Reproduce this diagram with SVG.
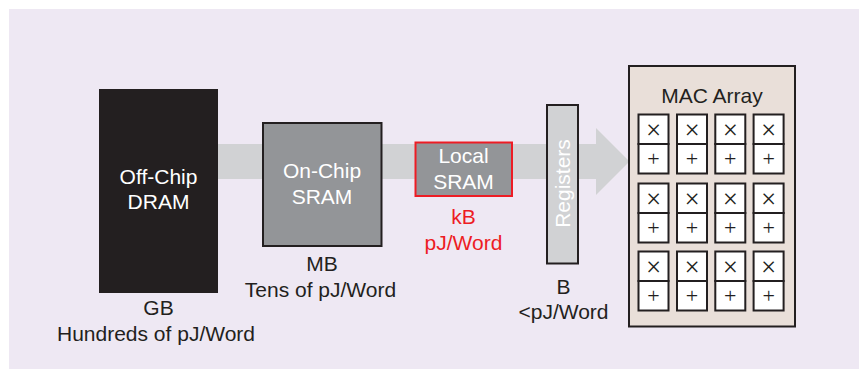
<svg xmlns="http://www.w3.org/2000/svg" width="859" height="370" viewBox="0 0 859 370">
  <style>
    text { font-family: "Liberation Sans", Arial, Helvetica, sans-serif; font-size: 21px; text-anchor: middle; }
    .dark { fill: #231F20; }
    .white { fill: #FFFFFF; }
    .red { fill: #ED1C24; }
    .mem { fill: #939598; stroke: #231F20; stroke-width: 2; }
    .cell { fill: #FFFFFF; stroke: #231F20; stroke-width: 2; }
    .op { font-family: "Liberation Serif", "Times New Roman", serif; font-size: 22px; fill: #231F20; }
    .mul { font-family: "Liberation Serif", "Times New Roman", serif; font-size: 27px; fill: #231F20; }
  </style>
  <defs>
    <!-- one multiply-accumulate unit: multiplier on top, adder below -->
    <g id="mac">
      <rect class="cell" x="0" y="0" width="30" height="29.5"/>
      <rect class="cell" x="0" y="29.5" width="30" height="29.5"/>
      <text class="mul" x="15" y="24">×</text>
      <text class="op" x="15" y="51.5">+</text>
    </g>
  </defs>

  <!-- panel background -->
  <rect x="9" y="9" width="850" height="360" fill="#EEE8F3"/>

  <!-- data-flow band from DRAM to the MAC array -->
  <g id="connectors">
    <rect x="218" y="144" width="379" height="35" fill="#D1D2D4"/>
    <polygon points="596,128 629.5,161.5 596,195" fill="#D1D2D4"/>
  </g>

  <g id="dram">
    <rect x="99" y="89" width="119" height="204" fill="#231F20"/>
    <text class="white" x="158.5" y="184">Off-Chip</text>
    <text class="white" x="158.5" y="209">DRAM</text>
    <text class="dark" x="158.5" y="315">GB</text>
    <text class="dark" x="156" y="340.5">Hundreds of pJ/Word</text>
  </g>

  <g id="onchip-sram">
    <rect class="mem" x="263" y="123" width="118.5" height="123"/>
    <text class="white" x="322" y="177.5">On-Chip</text>
    <text class="white" x="322" y="203.5">SRAM</text>
    <text class="dark" x="322" y="271">MB</text>
    <text class="dark" x="320.5" y="297">Tens of pJ/Word</text>
  </g>

  <g id="local-sram">
    <rect x="415.5" y="142.5" width="96.5" height="53.5" fill="#939598" stroke="#ED1C24" stroke-width="2"/>
    <text class="white" x="463.5" y="162.5">Local</text>
    <text class="white" x="463.5" y="189">SRAM</text>
    <text class="red" x="463.5" y="224">kB</text>
    <text class="red" x="463.5" y="249.5">pJ/Word</text>
  </g>

  <g id="registers">
    <rect x="547" y="105" width="31" height="158.5" fill="#D1D2D4" stroke="#231F20" stroke-width="2"/>
    <text class="white" transform="translate(569.5,183.5) rotate(-90)" x="0" y="0">Registers</text>
    <text class="dark" x="563.5" y="293.5">B</text>
    <text class="dark" x="563.5" y="318.5">&lt;pJ/Word</text>
  </g>

  <g id="mac-array">
    <rect x="629" y="66" width="166" height="260.5" fill="#E9DFD9" stroke="#231F20" stroke-width="2"/>
    <text class="dark" x="712" y="103">MAC Array</text>
    <use href="#mac" x="638.5" y="114.5"/>
    <use href="#mac" x="677" y="114.5"/>
    <use href="#mac" x="715.3" y="114.5"/>
    <use href="#mac" x="753.6" y="114.5"/>
    <use href="#mac" x="638.5" y="183.5"/>
    <use href="#mac" x="677" y="183.5"/>
    <use href="#mac" x="715.3" y="183.5"/>
    <use href="#mac" x="753.6" y="183.5"/>
    <use href="#mac" x="638.5" y="251.5"/>
    <use href="#mac" x="677" y="251.5"/>
    <use href="#mac" x="715.3" y="251.5"/>
    <use href="#mac" x="753.6" y="251.5"/>
  </g>
</svg>
